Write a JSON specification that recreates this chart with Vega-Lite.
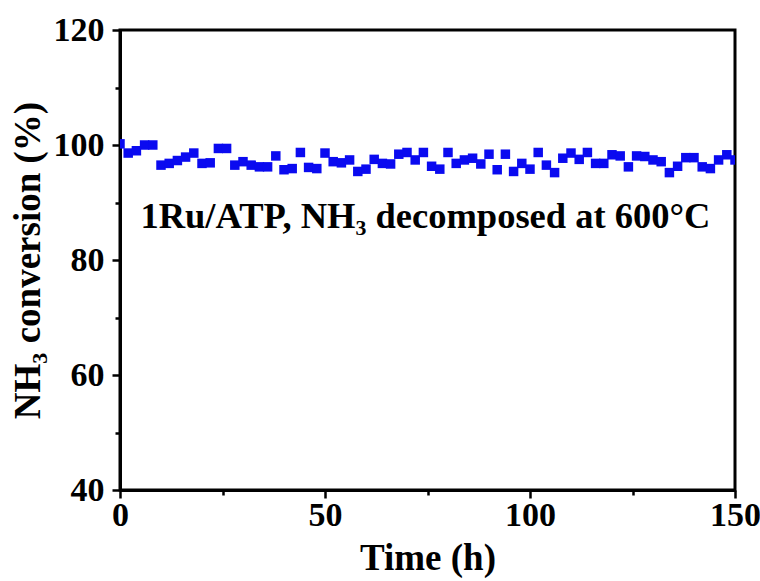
{
  "$schema": "https://vega.github.io/schema/vega-lite/v6.json",
  "width": 615,
  "height": 460,
  "autosize": "none",
  "padding": {"left": 120, "top": 30, "right": 25, "bottom": 91},
  "background": "white",
  "config": {
    "view": {"stroke": "black", "strokeWidth": 3},
    "font": "Liberation Serif"
  },
  "layer": [
    {
      "data": {
        "values": [
          {"t": 0, "v": 100.2}, {"t": 2, "v": 98.6}, {"t": 4, "v": 99.0}, {"t": 6, "v": 100.0}, {"t": 8, "v": 100.0},
          {"t": 10, "v": 96.5}, {"t": 12, "v": 96.8}, {"t": 14, "v": 97.3}, {"t": 16, "v": 97.9}, {"t": 18, "v": 98.6},
          {"t": 20, "v": 96.8}, {"t": 22, "v": 96.9}, {"t": 24, "v": 99.4}, {"t": 26, "v": 99.4}, {"t": 28, "v": 96.5},
          {"t": 30, "v": 97.1}, {"t": 32, "v": 96.5}, {"t": 34, "v": 96.2}, {"t": 36, "v": 96.2}, {"t": 38, "v": 98.1},
          {"t": 40, "v": 95.7}, {"t": 42, "v": 95.9}, {"t": 44, "v": 98.7}, {"t": 46, "v": 96.1}, {"t": 48, "v": 95.9},
          {"t": 50, "v": 98.6}, {"t": 52, "v": 97.1}, {"t": 54, "v": 96.9}, {"t": 56, "v": 97.4}, {"t": 58, "v": 95.4},
          {"t": 60, "v": 95.8}, {"t": 62, "v": 97.5}, {"t": 64, "v": 96.8}, {"t": 66, "v": 96.7}, {"t": 68, "v": 98.4},
          {"t": 70, "v": 98.7}, {"t": 72, "v": 97.4}, {"t": 74, "v": 98.7}, {"t": 76, "v": 96.3}, {"t": 78, "v": 95.8},
          {"t": 80, "v": 98.7}, {"t": 82, "v": 96.8}, {"t": 84, "v": 97.4}, {"t": 86, "v": 97.7}, {"t": 88, "v": 96.7},
          {"t": 90, "v": 98.4}, {"t": 92, "v": 95.7}, {"t": 94, "v": 98.4}, {"t": 96, "v": 95.4}, {"t": 98, "v": 96.8},
          {"t": 100, "v": 95.8}, {"t": 102, "v": 98.7}, {"t": 104, "v": 96.5}, {"t": 106, "v": 95.2}, {"t": 108, "v": 97.7},
          {"t": 110, "v": 98.6}, {"t": 112, "v": 97.5}, {"t": 114, "v": 98.7}, {"t": 116, "v": 96.8}, {"t": 118, "v": 96.8},
          {"t": 120, "v": 98.3}, {"t": 122, "v": 98.1}, {"t": 124, "v": 96.2}, {"t": 126, "v": 98.1}, {"t": 128, "v": 98.0},
          {"t": 130, "v": 97.4}, {"t": 132, "v": 97.1}, {"t": 134, "v": 95.2}, {"t": 136, "v": 96.3}, {"t": 138, "v": 97.8},
          {"t": 140, "v": 97.8}, {"t": 142, "v": 96.2}, {"t": 144, "v": 95.9}, {"t": 146, "v": 97.4}, {"t": 148, "v": 98.3},
          {"t": 150, "v": 97.4}
        ]
      },
      "mark": {"type": "point", "shape": "square", "filled": true, "size": 90, "color": "#0a0af0", "opacity": 1, "clip": true},
      "encoding": {
        "x": {
          "field": "t", "type": "quantitative",
          "scale": {"domain": [0, 150], "nice": false, "zero": false},
          "axis": {
            "title": "Time (h)",
            "values": [0, 25, 50, 75, 100, 125, 150],
            "labelExpr": "datum.value % 50 === 0 ? datum.label : ''",
            "grid": false,
            "domainColor": "black", "domainWidth": 3,
            "tickColor": "black", "tickWidth": 2.5,
            "tickSize": {"condition": {"test": "datum.value % 50 === 0", "value": 8}, "value": 5},
            "labelFont": "Liberation Serif", "labelFontWeight": "bold", "labelFontSize": 34, "labelColor": "black",
            "labelPadding": 0, "labelFlush": false,
            "titleFont": "Liberation Serif", "titleFontWeight": "bold", "titleFontSize": 37, "titleColor": "black",
            "titlePadding": 8
          }
        },
        "y": {
          "field": "v", "type": "quantitative",
          "scale": {"domain": [40, 120], "nice": false, "zero": false},
          "axis": {
            "title": "NH₃ conversion (%)",
            "values": [40, 50, 60, 70, 80, 90, 100, 110, 120],
            "labelExpr": "datum.value % 20 === 0 ? datum.label : ''",
            "grid": false,
            "domainColor": "black", "domainWidth": 3,
            "tickColor": "black", "tickWidth": 2.5,
            "tickSize": {"condition": {"test": "datum.value % 20 === 0", "value": 8}, "value": 5},
            "labelFont": "Liberation Serif", "labelFontWeight": "bold", "labelFontSize": 34, "labelColor": "black",
            "labelPadding": 8, "labelFlush": false,
            "titleFont": "Liberation Serif", "titleFontWeight": "bold", "titleFontSize": 37, "titleColor": "black",
            "titlePadding": 6
          }
        }
      }
    },
    {
      "data": {"values": [{"label": "1Ru/ATP, NH₃ decomposed at 600°C"}]},
      "mark": {"type": "text", "font": "Liberation Serif", "fontWeight": "bold", "fontSize": 36.5, "color": "black", "align": "center", "baseline": "alphabetic"},
      "encoding": {
        "text": {"field": "label"},
        "x": {"datum": 74.5, "type": "quantitative"},
        "y": {"datum": 85.6, "type": "quantitative"}
      }
    }
  ]
}
